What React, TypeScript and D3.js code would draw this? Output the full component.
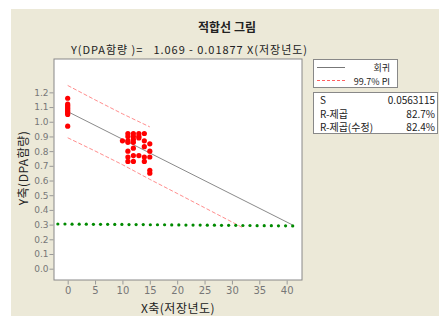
import React, { useRef, useEffect } from "react";
import { axisBottom, axisLeft, format, line, scaleLinear, select } from "d3";

// 저장년도(x) / DPA함량(y) observations
const obsX = [
  0, 0, 0, 0, 0, 0, 0, 0, 0, 0,
  10,
  11, 11, 11, 11, 11, 11, 11,
  12, 12, 12, 12, 12, 12, 12,
  13, 13, 13, 13,
  14, 14, 14, 14, 14,
  15, 15, 15, 15, 15,
];
const obsY = [
  1.16, 1.12, 1.11, 1.1, 1.09, 1.08, 1.07, 1.06, 1.05, 0.97,
  0.87,
  0.92, 0.9, 0.87, 0.86, 0.8, 0.76, 0.73,
  0.92, 0.9, 0.88, 0.86, 0.82, 0.77, 0.73,
  0.92, 0.9, 0.89, 0.77,
  0.92, 0.87, 0.83, 0.76, 0.73,
  0.85, 0.8, 0.76, 0.67, 0.65,
];

// fitted line ends
const fitX = [0, 41];
const fitY = [1.069, 0.299];

// 99.7% prediction interval
const upperX = [0, 5, 10, 15];
const upperY = [1.247, 1.149, 1.054, 0.965];
const lowerX = [0, 5, 10, 15, 20, 25, 30, 32];
const lowerY = [0.891, 0.801, 0.708, 0.608, 0.512, 0.415, 0.318, 0.279];

// green dotted reference
const refX = [
  -1.8, -0.5, 0.8, 2.1, 3.4, 4.7, 6.0, 7.3, 8.6, 9.9, 11.2, 12.5, 13.8, 15.1,
  16.4, 17.7, 19.0, 20.3, 21.6, 22.9, 24.2, 25.5, 26.8, 28.1, 29.4, 30.7,
  32.0, 33.3, 34.6, 35.9, 37.2, 38.5, 39.8, 41.1,
];
const refY = [
  0.304, 0.304, 0.303, 0.303, 0.303, 0.302, 0.302, 0.302, 0.301, 0.301, 0.3,
  0.3, 0.3, 0.299, 0.299, 0.299, 0.298, 0.298, 0.297, 0.297, 0.297, 0.296,
  0.296, 0.295, 0.295, 0.295, 0.294, 0.294, 0.293, 0.293, 0.293, 0.292,
  0.292, 0.291,
];

const xTicks = [0, 5, 10, 15, 20, 25, 30, 35, 40];
const yTicks = [0, 0.1, 0.2, 0.3, 0.4, 0.5, 0.6, 0.7, 0.8, 0.9, 1.0, 1.1, 1.2];

const statLabels = ["S", "R-제곱", "R-제곱(수정)"];
const statValues = ["0.0563115", "82.7%", "82.4%"];

const KR = "'Noto Sans CJK KR', 'Noto Sans', sans-serif";

function Chart() {
  const svgRef = useRef<SVGSVGElement>(null);

  useEffect(() => {
    const svg = select(svgRef.current);
    svg.selectAll("*").remove();

    const x = scaleLinear().domain([-2.5, 42.8]).range([54, 302]);
    const y = scaleLinear().domain([-0.077, 1.427]).range([280, 59]);

    svg.append("rect").attr("x", 11).attr("y", 9).attr("width", 428).attr("height", 307).attr("fill", "#ece9d8");
    svg.append("rect").attr("x", 54).attr("y", 59).attr("width", 248).attr("height", 221)
      .attr("fill", "#fff").attr("stroke", "#888").attr("stroke-width", 1);

    const gx = svg.append("g").attr("transform", "translate(0,280.5)")
      .call(axisBottom(x).tickValues(xTicks).tickFormat(format("d")).tickSize(4).tickPadding(2).tickSizeOuter(0));
    const gy = svg.append("g").attr("transform", "translate(53.5,0)")
      .call(axisLeft(y).tickValues(yTicks).tickFormat(format(".1f")).tickSize(4).tickPadding(1).tickSizeOuter(0));
    [gx, gy].forEach((g) => {
      g.select(".domain").remove();
      g.selectAll("line").attr("stroke", "#999");
      g.selectAll("text").attr("fill", "#777").style("font", "9px Tahoma, 'DejaVu Sans', sans-serif");
    });
    gx.selectAll("text").style("font-size", "10px");

    const ln = line<[number, number]>().x((d) => x(d[0])).y((d) => y(d[1]));

    svg.append("path").attr("d", ln(fitX.map((v, i) => [v, fitY[i]])))
      .attr("fill", "none").attr("stroke", "#8a8a8a").attr("stroke-width", 1);
    [[upperX, upperY], [lowerX, lowerY]].forEach(([xs, ys]) => {
      svg.append("path").attr("d", ln(xs.map((v, i) => [v, ys[i]])))
        .attr("fill", "none").attr("stroke", "#ff7070").attr("stroke-width", 0.8).attr("stroke-dasharray", "4,2");
    });

    svg.append("g").selectAll("circle").data(refX).enter().append("circle")
      .attr("cx", (d) => x(d)).attr("cy", (d, i) => y(refY[i])).attr("r", 1.6).attr("fill", "#008a00");

    svg.append("g").selectAll("circle").data(obsX).enter().append("circle")
      .attr("cx", (d) => x(d)).attr("cy", (d, i) => y(obsY[i])).attr("r", 2.6).attr("fill", "#ff0000");

    // titles
    svg.append("text").text("적합선 그림").attr("x", 227).attr("y", 32).attr("text-anchor", "middle")
      .style("font", `bold 12px ${KR}`).attr("fill", "#222");
    svg.append("text").text("Y(DPA함량 )=   1.069 - 0.01877 X(저장년도)").attr("x", 71).attr("y", 54)
      .attr("xml:space", "preserve").style("white-space", "pre")
      .style("font", `11px ${KR}`).attr("fill", "#222").attr("textLength", 236);
    svg.append("text").text("X축(저장년도)").attr("x", 178).attr("y", 313).attr("text-anchor", "middle")
      .style("font", `12px ${KR}`).attr("fill", "#222").attr("letter-spacing", "0.5");
    svg.append("text").text("Y축(DPA함량)").attr("transform", "translate(28,168) rotate(-90)").attr("text-anchor", "middle")
      .style("font", `12px ${KR}`).attr("fill", "#222").attr("letter-spacing", "0.5");

    // legend
    svg.append("rect").attr("x", 313.5).attr("y", 59.5).attr("width", 84).attr("height", 28)
      .attr("fill", "#fff").attr("stroke", "#888");
    svg.append("line").attr("x1", 317).attr("x2", 345).attr("y1", 67.5).attr("y2", 67.5).attr("stroke", "#777");
    svg.append("line").attr("x1", 317).attr("x2", 345).attr("y1", 80.5).attr("y2", 80.5)
      .attr("stroke", "#ff6060").attr("stroke-dasharray", "3,2");
    svg.append("text").text("회귀").attr("x", 390).attr("y", 71).attr("text-anchor", "end")
      .style("font", `9px ${KR}`).attr("fill", "#222");
    svg.append("text").text("99.7% PI").attr("x", 390).attr("y", 84.5).attr("text-anchor", "end")
      .style("font", `9px ${KR}`).attr("fill", "#222");

    // stats
    svg.append("rect").attr("x", 313.5).attr("y", 92.5).attr("width", 124).attr("height", 41)
      .attr("fill", "#fff").attr("stroke", "#888");
    statLabels.forEach((s, i) => {
      svg.append("text").text(s).attr("x", 320).attr("y", 104 + i * 13.5)
        .style("font", `10px ${KR}`).attr("fill", "#222");
      svg.append("text").text(statValues[i]).attr("x", 435).attr("y", 104 + i * 13.5).attr("text-anchor", "end")
        .style("font", `10px ${KR}`).attr("fill", "#222");
    });
  }, []);

  return (
    <svg ref={svgRef} width={439} height={316} style={{ position: "absolute", left: 0, top: 0, background: "#fff" }}></svg>
  );
}

export default function App() {
  return <Chart />;
}
